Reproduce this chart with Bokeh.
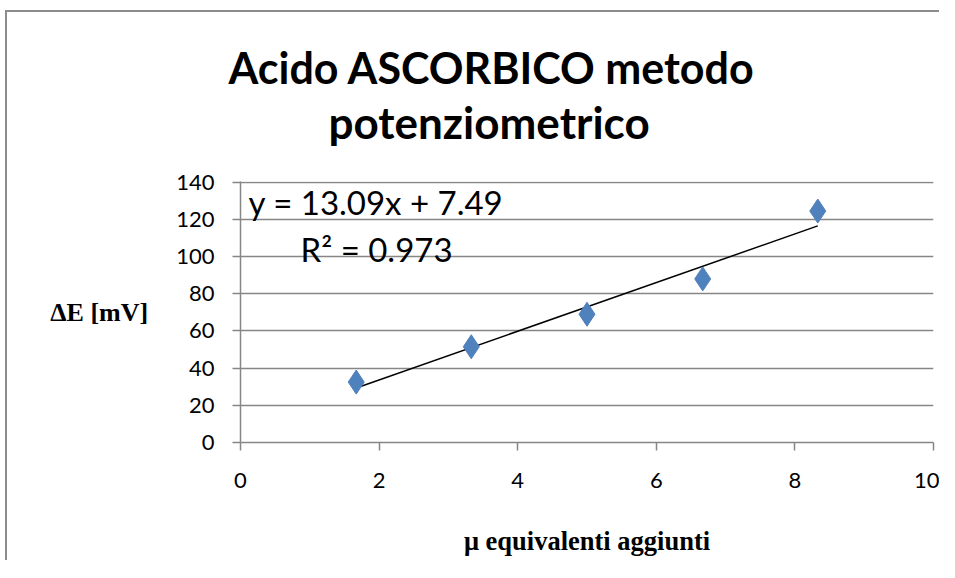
from bokeh.plotting import figure
from bokeh.models import Range1d, Label, FixedTicker, Title
from bokeh.embed import file_html
from bokeh.resources import INLINE

# data
x_vals = [1.67, 3.33, 5.0, 6.67, 8.33]
y_vals = [32.5, 51.5, 69.0, 88.0, 124.5]
slope = 13.09
intercept = 7.49
r2 = 0.973
title_lines = ["Acido ASCORBICO metodo", "potenziometrico"]
x_label = "μ equivalenti aggiunti"
y_label = "ΔE [mV]"
x_ticks = [0, 2, 4, 6, 8, 10]
y_ticks = [0, 20, 40, 60, 80, 100, 120, 140]

p = figure(width=934, height=550, output_backend="svg", toolbar_location=None,
           x_range=Range1d(0, 10), y_range=Range1d(0, 140.4),
           min_border_left=233, min_border_right=8, min_border_top=169,
           min_border_bottom=120)
p.styles = {"border-left": "2px solid #8c8c8c", "border-top": "2px solid #8c8c8c",
            "margin-left": "5px", "margin-top": "10px"}
p.outline_line_color = None
p.background_fill_color = "white"
p.title.visible = False

GRAY = "#868686"
p.xgrid.grid_line_color = None
p.ygrid.grid_line_color = GRAY
p.ygrid.grid_line_width = 1.5
p.ygrid.ticker = FixedTicker(ticks=y_ticks)

for ax in (p.xaxis[0], p.yaxis[0]):
    ax.axis_line_color = GRAY
    ax.axis_line_width = 1.5
    ax.major_tick_line_color = GRAY
    ax.major_tick_line_width = 1.5
    ax.major_tick_in = 0
    ax.major_tick_out = 8
    ax.minor_tick_line_color = None
    ax.major_label_text_font = "Lato"
    ax.major_label_text_font_size = "22px"
    ax.major_label_text_color = "black"
    ax.axis_label_text_font = "Liberation Serif"
    ax.axis_label_text_font_style = "bold"
    ax.axis_label_text_color = "black"
p.xaxis[0].axis_label_text_font_size = "26.5px"
p.yaxis[0].axis_label_text_font_size = "26px"
p.xaxis[0].ticker = FixedTicker(ticks=x_ticks)
p.yaxis[0].ticker = FixedTicker(ticks=y_ticks)
p.xaxis[0].major_label_standoff = 22
p.yaxis[0].major_label_standoff = 18
p.xaxis[0].axis_label = x_label
p.xaxis[0].axis_label_standoff = 35
p.yaxis[0].axis_label = y_label
p.yaxis[0].axis_label_orientation = "horizontal"
p.yaxis[0].axis_label_standoff = 25

# two-line title (first added sits nearest the plot)
p.add_layout(Title(text=title_lines[1], text_font="Lato", text_font_style="bold",
                   text_font_size="44px", align="left", offset=88, standoff=67,
                   text_color="black"), "above")
p.add_layout(Title(text=title_lines[0], text_font="Lato", text_font_style="bold",
                   text_font_size="43px", align="left", offset=-12, standoff=-65,
                   text_color="black"), "above")

# trendline
xl = [min(x_vals), max(x_vals)]
yl = [slope * v + intercept for v in xl]
p.line(xl, yl, line_color="black", line_width=1.5)

p.scatter(x_vals, y_vals, marker="diamond", size=24, fill_color="#4F81BD",
          line_color="#4F81BD")

# pixel helpers (frame: 693 px wide, 261 px tall)
def dx(px):
    return px * 10 / 693
def dy(py):
    return py * 140 / 261

p.add_layout(Label(x=dx(248 - 240), y=dy(442 - 201),
                   text=f"y = {slope:.2f}x + {intercept:.2f}",
                   text_font="Lato", text_font_size="33px", text_color="black",
                   text_align="left", text_baseline="middle"))
p.add_layout(Label(x=dx(300 - 240), y=dy(442 - 248),
                   text=f"R² = {r2:.3f}",
                   text_font="Lato", text_font_size="33px", text_color="black",
                   text_align="left", text_baseline="middle"))

open("out.html", "w").write(file_html(p, INLINE))
